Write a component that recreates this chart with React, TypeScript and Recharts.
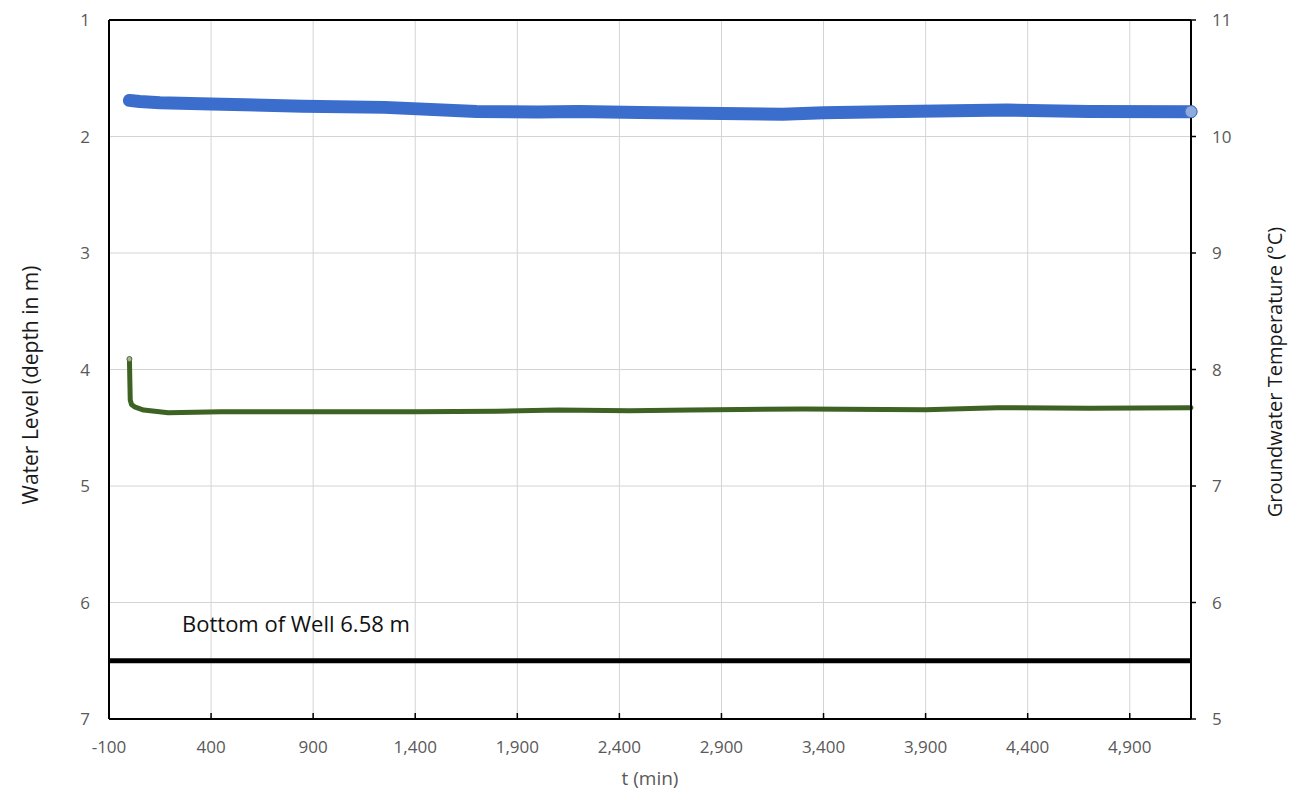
import React from 'react'
import {
  LineChart,
  Line,
  XAxis,
  YAxis,
  CartesianGrid,
  ReferenceLine,
  Label,
} from 'recharts'

// water level (depth below top, m) – left axis, reversed
const waterTime = [0, 50, 150, 400, 850, 1250, 1700, 2000, 2200, 2500, 2800, 3200, 3400, 3700, 4300, 4700, 5200]
const waterLevel = [1.69, 1.7, 1.71, 1.72, 1.74, 1.75, 1.785, 1.79, 1.785, 1.794, 1.8, 1.808, 1.797, 1.787, 1.773, 1.785, 1.787]

// groundwater temperature (°C) – right axis
const tempTime = [0, 4, 10, 25, 70, 190, 450, 1000, 1400, 1800, 2100, 2450, 2750, 3300, 3900, 4250, 4700, 5200]
const temperature = [8.09, 7.74, 7.7, 7.68, 7.652, 7.629, 7.638, 7.638, 7.638, 7.641, 7.652, 7.645, 7.652, 7.662, 7.655, 7.672, 7.667, 7.672]

const xTicks = [-100, 400, 900, 1400, 1900, 2400, 2900, 3400, 3900, 4400, 4900]
const depthTicks = [1, 2, 3, 4, 5, 6, 7]
const tempTicks = [5, 6, 7, 8, 9, 10, 11]

const bottomOfWell = 6.5
const bottomOfWellText = 'Bottom of Well 6.58 m'

const waterData = waterTime.map((t, i) => ({ t, level: waterLevel[i] }))
const tempData = tempTime.map((t, i) => ({ t, temp: temperature[i] }))

const FONT = '"Open Sans", "Noto Sans", sans-serif'
const tickStyle = { fill: '#595959', fontSize: 17, fontFamily: FONT }

const fmt = (v: number) => v.toLocaleString('en-US')

export default function App() {
  return (
    <div style={{ position: 'absolute', left: 0, top: 0, width: 1289, height: 791, background: '#fff' }}>
      <LineChart width={1289} height={791} margin={{ top: 20, right: 0, bottom: 0, left: 0 }}>
        <CartesianGrid stroke="#d4d4d4" strokeWidth={1} yAxisId="left" />
        <XAxis
          type="number"
          dataKey="t"
          domain={[-100, 5200]}
          ticks={xTicks}
          tickFormatter={fmt}
          height={72}
          allowDuplicatedCategory={false}
          axisLine={{ stroke: '#000', strokeWidth: 2 }}
          tickLine={{ stroke: '#000', strokeWidth: 1.5 }}
          tickSize={-6}
          tickMargin={28}
          tick={tickStyle}
        >
          <Label
            content={() => (
              <text x={650} y={785} textAnchor="middle" fill="#595959" fontSize={19} fontFamily={FONT}>
                t (min)
              </text>
            )}
          />
        </XAxis>
        <YAxis
          yAxisId="left"
          reversed
          domain={[1, 7]}
          ticks={depthTicks}
          width={109}
          axisLine={{ stroke: '#000', strokeWidth: 2 }}
          tickLine={false}
          tickSize={0}
          tickMargin={19}
          tick={tickStyle}
        >
          <Label
            content={() => (
              <text
                x={30}
                y={385}
                transform="rotate(-90 30 385)"
                textAnchor="middle"
                dominantBaseline="central"
                fill="#1a1a1a"
                fontSize={21}
                fontFamily={FONT}
              >
                Water Level (depth in m)
              </text>
            )}
          />
        </YAxis>
        <YAxis
          yAxisId="right"
          orientation="right"
          domain={[5, 11]}
          ticks={tempTicks}
          width={98}
          axisLine={{ stroke: '#000', strokeWidth: 2 }}
          tickLine={{ stroke: '#000', strokeWidth: 1.5 }}
          tickSize={5}
          tickMargin={16}
          tick={tickStyle}
        >
          <Label
            content={() => (
              <text
                x={1274}
                y={372}
                transform="rotate(-90 1274 372)"
                textAnchor="middle"
                dominantBaseline="central"
                fill="#1a1a1a"
                fontSize={20}
                fontFamily={FONT}
              >
                Groundwater Temperature (°C)
              </text>
            )}
          />
        </YAxis>

        <ReferenceLine yAxisId="left" y={1} stroke="#000" strokeWidth={2} />
        <ReferenceLine
          yAxisId="left"
          y={bottomOfWell}
          stroke="#000"
          strokeWidth={5}
          label={{
            content: (props: any) => {
              const vb = props.viewBox || { x: 109, y: 660 }
              return (
                <text x={vb.x + 73} y={vb.y - 29} fill="#111" fontSize={22} fontFamily={FONT}>
                  {bottomOfWellText}
                </text>
              )
            },
          }}
        />

        <Line
          yAxisId="left"
          data={waterData}
          dataKey="level"
          type="linear"
          stroke="#3b6dcc"
          strokeWidth={13}
          strokeLinecap="round"
          strokeLinejoin="round"
          isAnimationActive={false}
          dot={(p: any) =>
            p.index === waterData.length - 1 ? (
              <circle key={`wd-${p.index}`} cx={p.cx} cy={p.cy} r={6} fill="#8faadc" stroke="#4472c4" strokeWidth={1} />
            ) : (
              <g key={`wd-${p.index}`} />
            )
          }
        />
        <Line
          yAxisId="right"
          data={tempData}
          dataKey="temp"
          type="linear"
          stroke="#3d6223"
          strokeWidth={5}
          strokeLinecap="round"
          strokeLinejoin="round"
          isAnimationActive={false}
          dot={(p: any) =>
            p.index === 0 ? (
              <circle key={`td-${p.index}`} cx={p.cx} cy={p.cy} r={2.5} fill="#a9b896" stroke="#5c6b45" strokeWidth={1} />
            ) : (
              <g key={`td-${p.index}`} />
            )
          }
        />
      </LineChart>
    </div>
  )
}
